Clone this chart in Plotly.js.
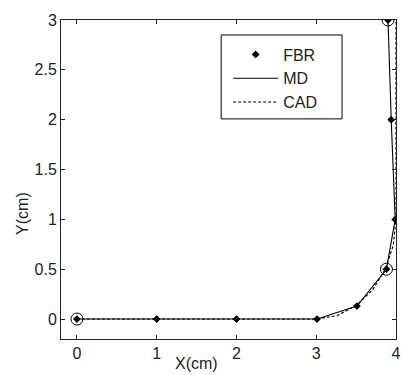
<!DOCTYPE html>
<html>
<head>
<meta charset="utf-8">
<script src="https://cdn.plot.ly/plotly-3.0.1.min.js"></script>
<style>html,body{margin:0;padding:0;background:#fff;}#chart{width:402px;height:375px;}</style>
</head>
<body>
<div id="chart"></div>
<script>
// FBR measured points
var fbrX = [0, 1, 2, 3.01, 3.51, 3.88, 3.99, 3.94, 3.9];
var fbrY = [0, 0, 0, 0, 0.13, 0.5, 1, 2, 3];
// MD path
var mdX = [0, 1, 2, 3.01, 3.51, 3.88, 3.99, 3.94, 3.9];
var mdY = [0, 0, 0, 0, 0.13, 0.5, 1, 2, 3];
// CAD path (line, quarter arc, line)
var cadX = [0, 3, 3.259, 3.5, 3.707, 3.866, 3.966, 4, 4];
var cadY = [0, 0, 0.034, 0.134, 0.293, 0.5, 0.741, 1, 3];
// circled key points
var keyX = [0, 3.88, 3.9];
var keyY = [0, 0.5, 3];
var xTicks = [0, 1, 2, 3, 4];
var yTicks = [0, 0.5, 1, 1.5, 2, 2.5, 3];

var font = {family: 'Liberation Sans, Arial, sans-serif', size: 16, color: '#222'};

var traces = [
  {x: keyX, y: keyY, mode: 'markers', showlegend: false, hoverinfo: 'skip',
   marker: {symbol: 'circle-open', size: 12, color: '#000', line: {width: 1, color: '#000'}}},
  {x: fbrX, y: fbrY, mode: 'markers', name: 'FBR',
   marker: {symbol: 'diamond', size: 6, color: '#000'}},
  {x: mdX, y: mdY, mode: 'lines', name: 'MD', line: {color: '#000', width: 1.1}},
  {x: cadX, y: cadY, mode: 'lines', name: 'CAD', line: {color: '#000', width: 1.1, dash: '3px,2px'}}
];

var axisCommon = {
  showgrid: false, zeroline: false, showline: true, linecolor: '#222', linewidth: 1,
  mirror: 'allticks', ticks: 'inside', ticklen: 4, tickcolor: '#222', tickfont: font
};

var layout = {
  width: 402, height: 375,
  margin: {l: 61, r: 6, t: 20, b: 36},
  paper_bgcolor: '#fff', plot_bgcolor: '#fff',
  font: font,
  xaxis: Object.assign({}, axisCommon, {range: [-0.2, 4], tickvals: xTicks, ticktext: xTicks.map(String)}),
  yaxis: Object.assign({}, axisCommon, {range: [-0.2, 3], tickvals: yTicks, ticktext: yTicks.map(String)}),
  legend: {x: 0.499, y: 0.945, xanchor: 'left', yanchor: 'top', borderwidth: 0,
           bgcolor: 'rgba(0,0,0,0)', font: font, tracegroupgap: 0, itemwidth: 45},
  shapes: [
    {type: 'rect', xref: 'paper', yref: 'paper', x0: 0.478, x1: 0.839, y0: 0.690, y1: 0.953,
     line: {color: '#000', width: 1}, fillcolor: '#fff', layer: 'above'}
  ],
  annotations: [
    {text: 'X(cm)', xref: 'paper', yref: 'paper', x: 0.403, y: 0, yshift: -24, xanchor: 'center', yanchor: 'middle',
     showarrow: false, font: font},
    {text: 'Y(cm)', xref: 'paper', yref: 'paper', x: 0, xshift: -38, y: 0.392, textangle: -90,
     xanchor: 'center', yanchor: 'middle', showarrow: false, font: font}
  ],
  showlegend: true
};

Plotly.newPlot('chart', traces, layout, {displayModeBar: false, staticPlot: true});
</script>
</body>
</html>
